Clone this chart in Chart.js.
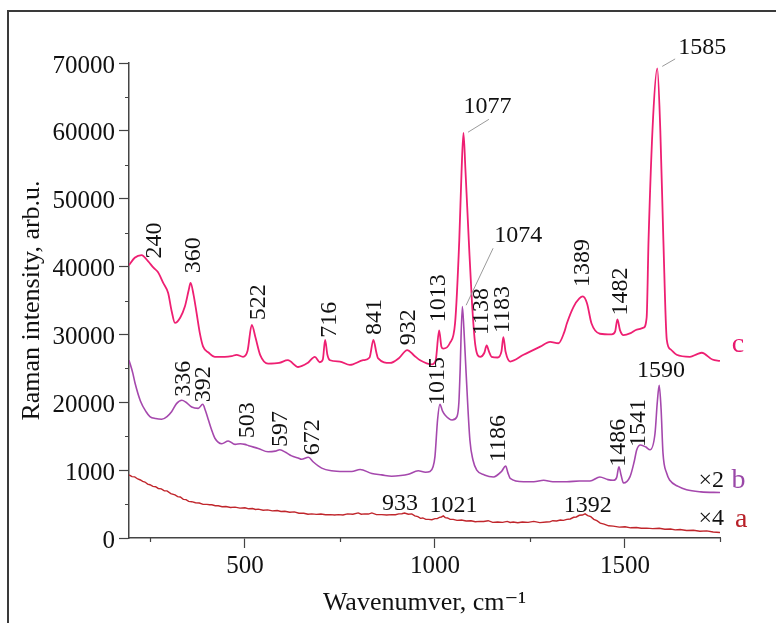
<!DOCTYPE html>
<html>
<head>
<meta charset="utf-8">
<title>Raman spectra</title>
<script src="https://cdn.jsdelivr.net/npm/chart.js@4.4.1/dist/chart.umd.min.js"></script>
<style>
  html, body { margin: 0; padding: 0; background: #fff; }
  canvas { display: block; }
</style>
</head>
<body>
<canvas id="ramanChart" width="776" height="623"></canvas>
<script>
// Spectrum c (pink)
const cWave = [195, 210, 228, 245, 260, 271, 285, 298, 307, 316, 330, 342, 352, 357, 365, 373, 382, 390, 405, 421,
  447, 465, 478, 495, 507, 518, 528, 540, 561, 590, 613, 640, 665, 684, 697, 705, 711, 717, 724, 750,
  776, 811, 828, 838, 846, 850, 882, 905, 927, 945, 961, 992, 1002, 1011, 1017, 1022, 1039, 1053, 1064, 1070,
  1075, 1080, 1089, 1097, 1106, 1119, 1130, 1136, 1142, 1149, 1165, 1175, 1180, 1186, 1198, 1233, 1277, 1303, 1325, 1340,
  1347, 1365, 1380, 1389, 1400, 1412, 1434, 1465, 1474, 1480, 1487, 1496, 1515, 1531, 1549, 1557, 1562, 1574, 1585, 1593,
  1601, 1610, 1620, 1636, 1671, 1690, 1702, 1730, 1750];
const cIntensity = [40200, 41300, 41700, 40800, 39800, 39200, 37600, 36100, 33500, 31700, 32500, 34100, 36500, 37600, 35800, 33100, 30000, 28200, 27300, 26700,
  26700, 26800, 27000, 26700, 27600, 31400, 29500, 27000, 25700, 25800, 26200, 25200, 25800, 26700, 25900, 26300, 29200, 27000, 26200, 26000,
  25500, 26200, 26600, 29200, 27300, 26500, 25800, 26500, 27700, 26900, 26200, 25600, 26200, 30600, 28200, 27900, 28700, 31700, 43900, 54000,
  59700, 54500, 43900, 35100, 28500, 26700, 27300, 28400, 27500, 26700, 26600, 27500, 29600, 27400, 26000, 27000, 28200, 28900, 28700, 30300,
  31600, 34100, 35300, 35600, 34600, 31600, 30100, 30000, 30400, 32200, 30600, 29900, 30200, 30700, 31000, 32500, 43900, 62000, 69200, 60000,
  43900, 29200, 27800, 27000, 26700, 27100, 27300, 26300, 26100];

// Spectrum b (purple, x2)
const bWave = [195, 205, 211, 225, 240, 250, 265, 281, 295, 307, 320, 334, 345, 360, 377, 389, 396, 404, 412, 421,
  439, 456, 474, 488, 500, 510, 535, 561, 580, 592, 608, 623, 640, 649, 667, 680, 702, 728, 760, 781,
  803, 834, 860, 886, 910, 930, 956, 975, 987, 995, 1000, 1007, 1013, 1020, 1027, 1045, 1058, 1063, 1066, 1072,
  1076, 1082, 1092, 1100, 1110, 1130, 1154, 1175, 1186, 1192, 1198, 1233, 1260, 1286, 1310, 1347, 1380, 1408, 1434, 1455,
  1469, 1478, 1484, 1490, 1496, 1513, 1524, 1531, 1541, 1555, 1566, 1579, 1585, 1590, 1595, 1600, 1610, 1618, 1640, 1662,
  1700, 1750];
const bIntensity = [26200, 24300, 22800, 20200, 18600, 17900, 17600, 17500, 17900, 18600, 19800, 20300, 20000, 19300, 19100, 19700, 18800, 17400, 16000, 14700,
  13900, 14300, 13800, 13900, 13800, 13600, 13200, 12700, 12800, 13000, 12600, 12100, 11800, 11600, 11900, 11200, 10300, 9900, 9800, 9800,
  10100, 9500, 9300, 9100, 9200, 9400, 9900, 9700, 9800, 10500, 12000, 17500, 19700, 18700, 18100, 17400, 17900, 20000, 24300, 34100,
  31000, 24300, 14400, 11500, 10000, 9300, 9000, 9800, 10600, 9600, 8800, 8300, 8300, 8500, 8300, 8300, 8400, 8400, 9000, 8600,
  8500, 8900, 10500, 9200, 8100, 9000, 11200, 13000, 13700, 13400, 13000, 15400, 20000, 22500, 19000, 12500, 9500, 8500, 7600, 7100,
  6800, 6700];

// Spectrum a (red, x4) - noisy trace
const aWave = [195, 203, 210, 218, 225, 231, 237, 244, 250, 258,
  265, 272, 280, 288, 295, 305, 316, 323, 330, 338,
  345, 352, 360, 370, 380, 390, 400, 407, 413, 422,
  430, 440, 450, 462, 474, 487, 500, 510, 520, 528,
  535, 548, 560, 572, 585, 595, 605, 618, 630, 642,
  655, 666, 676, 688, 700, 712, 725, 736, 746, 758,
  770, 784, 798, 806, 815, 825, 834, 846, 860, 873,
  886, 896, 905, 913, 920, 930, 939, 947, 955, 962,
  968, 976, 983, 992, 1000, 1006, 1012, 1017, 1022, 1027,
  1033, 1040, 1048, 1058, 1070, 1082, 1095, 1106, 1118, 1128,
  1140, 1152, 1165, 1178, 1190, 1198, 1206, 1218, 1230, 1245,
  1260, 1276, 1293, 1302, 1310, 1320, 1330, 1338, 1347, 1356,
  1365, 1372, 1380, 1388, 1395, 1402, 1410, 1418, 1426, 1435,
  1445, 1457, 1469, 1485, 1500, 1515, 1530, 1543, 1557, 1573,
  1590, 1605, 1620, 1632, 1645, 1662, 1680, 1697, 1715, 1732,
  1750];
const aIntensity = [9300, 9050, 9000, 8700, 8550, 8350, 8250, 7950, 7850, 7600,
  7550, 7300, 7250, 6950, 6950, 6550, 6350, 6100, 6050, 5700,
  5650, 5400, 5350, 5200, 5150, 4950, 4950, 4900, 4900, 4750,
  4750, 4600, 4650, 4500, 4550, 4400, 4450, 4300, 4350, 4200,
  4250, 4100, 4150, 4000, 4050, 3900, 3950, 3800, 3850, 3650,
  3650, 3500, 3550, 3480, 3530, 3420, 3450, 3380, 3450, 3400,
  3550, 3500, 3700, 3500, 3550, 3530, 3700, 3450, 3450, 3400,
  3450, 3430, 3550, 3580, 3680, 3500, 3550, 3250, 3150, 2900,
  2950, 2750, 2750, 2700, 2850, 2850, 3050, 3100, 3250, 3000,
  2950, 2750, 2750, 2600, 2650, 2500, 2550, 2400, 2450, 2430,
  2550, 2300, 2350, 2300, 2450, 2280, 2350, 2250, 2350, 2300,
  2450, 2270, 2350, 2370, 2550, 2500, 2650, 2600, 2750, 2800,
  3050, 3100, 3350, 3380, 3550, 3300, 3150, 2750, 2550, 2200,
  2050, 1800, 1750, 1600, 1650, 1500, 1550, 1430, 1450, 1380,
  1440, 1300, 1330, 1200, 1250, 1100, 1150, 1000, 1050, 880,
  820];

// Axis tick labels (the 10000 tick is printed as "1000" in the original figure)
const xTickValues = [250, 500, 750, 1000, 1250, 1500, 1750];
const xTickLabels = { 500: '500', 1000: '1000', 1500: '1500' };
const yTickValues = [0, 5000, 10000, 15000, 20000, 25000, 30000, 35000, 40000, 45000, 50000, 55000, 60000, 65000, 70000];
const yTickLabels = { 0: '0', 10000: '1000', 20000: '20000', 30000: '30000', 40000: '40000', 50000: '50000', 60000: '60000', 70000: '70000' };

// Peak labels
const rotatedLabels = [
  { text: '240', x: 263, y: 41200 }, { text: '360', x: 365, y: 39000 }, { text: '522', x: 535, y: 32100 },
  { text: '716', x: 724, y: 29500 }, { text: '841', x: 842, y: 29900 }, { text: '932', x: 930, y: 28400 },
  { text: '1013', x: 1009, y: 31800 }, { text: '1138', x: 1124, y: 29900 }, { text: '1183', x: 1179, y: 30200 },
  { text: '1389', x: 1390, y: 37000 }, { text: '1482', x: 1490, y: 32800 },
  { text: '336', x: 340, y: 20800 }, { text: '392', x: 392, y: 20000 }, { text: '503', x: 507, y: 14700 },
  { text: '597', x: 595, y: 13400 }, { text: '672', x: 679, y: 12200 }, { text: '1015', x: 1007, y: 19600 },
  { text: '1186', x: 1169, y: 11200 }, { text: '1486', x: 1484, y: 10500 }, { text: '1541', x: 1537, y: 13400 }
];
const flatLabels = [
  { text: '1077', x: 1138, y: 62600 }, { text: '1585', x: 1703, y: 71400 }, { text: '1074', x: 1219, y: 43600 },
  { text: '1590', x: 1595, y: 23700 }, { text: '933', x: 908, y: 4100 }, { text: '1021', x: 1049, y: 3800 },
  { text: '1392', x: 1402, y: 3800 }, { text: '×2', x: 1727, y: 7500 }, { text: '×4', x: 1727, y: 1900 }
];
const curveNames = [
  { text: 'c', x: 1797, y: 27400, color: '#e8186e' },
  { text: 'b', x: 1799, y: 7400, color: '#9a48a8' },
  { text: 'a', x: 1806, y: 1600, color: '#b82028' }
];
const leaderLines = [
  { x1: 1087, y1: 59800, x2: 1142, y2: 61700 },
  { x1: 1598, y1: 69500, x2: 1632, y2: 70600 },
  { x1: 1082, y1: 34300, x2: 1153, y2: 42700 }
];

const serif = '"Liberation Serif", "DejaVu Serif", serif';

function toPoints(xs, ys) {
    return xs.map((x, i) => ({ x: x, y: ys[i] }));
}

// Frame, minor ticks and the peak annotations
const decorations = {
    id: 'decorations',
    beforeDraw(chart) {
        const ctx = chart.ctx;
        ctx.save();
        ctx.strokeStyle = '#3a3a3a';
        ctx.lineWidth = 2;
        ctx.beginPath();
        ctx.moveTo(8, 623);
        ctx.lineTo(8, 11);
        ctx.lineTo(776, 11);
        ctx.stroke();
        ctx.restore();
    },
    afterDraw(chart) {
        const ctx = chart.ctx;
        const xs = chart.scales.x;
        const ys = chart.scales.y;
        const area = chart.chartArea;
        ctx.save();

        // minor ticks
        ctx.strokeStyle = '#444';
        ctx.lineWidth = 1.2;
        ctx.beginPath();
        xTickValues.forEach(v => {
            if (xTickLabels[v]) return;
            const px = Math.round(xs.getPixelForValue(v)) + 0.5;
            ctx.moveTo(px, area.bottom);
            ctx.lineTo(px, area.bottom + 4);
        });
        yTickValues.forEach(v => {
            if (yTickLabels[v]) return;
            const py = Math.round(ys.getPixelForValue(v)) + 0.5;
            ctx.moveTo(area.left, py);
            ctx.lineTo(area.left - 4, py);
        });
        ctx.stroke();

        // leader lines
        ctx.strokeStyle = '#9a9a9a';
        ctx.lineWidth = 1;
        leaderLines.forEach(l => {
            ctx.beginPath();
            ctx.moveTo(xs.getPixelForValue(l.x1), ys.getPixelForValue(l.y1));
            ctx.lineTo(xs.getPixelForValue(l.x2), ys.getPixelForValue(l.y2));
            ctx.stroke();
        });

        ctx.fillStyle = '#111';
        ctx.font = '24px ' + serif;

        // vertical labels, read bottom to top
        ctx.textAlign = 'left';
        ctx.textBaseline = 'middle';
        rotatedLabels.forEach(l => {
            ctx.save();
            ctx.translate(xs.getPixelForValue(l.x), ys.getPixelForValue(l.y));
            ctx.rotate(-Math.PI / 2);
            ctx.fillText(l.text, 0, 0);
            ctx.restore();
        });

        // horizontal labels
        ctx.textAlign = 'center';
        ctx.textBaseline = 'alphabetic';
        flatLabels.forEach(l => {
            ctx.fillText(l.text, xs.getPixelForValue(l.x), ys.getPixelForValue(l.y));
        });

        ctx.font = '28px ' + serif;
        curveNames.forEach(l => {
            ctx.fillStyle = l.color;
            ctx.fillText(l.text, xs.getPixelForValue(l.x), ys.getPixelForValue(l.y));
        });

        ctx.restore();
    }
};

const ctx = document.getElementById('ramanChart').getContext('2d');

new Chart(ctx, {
    type: 'line',
    data: {
        datasets: [
            {
                label: 'a',
                data: toPoints(aWave, aIntensity),
                borderColor: '#c0262c',
                borderWidth: 1.4,
                cubicInterpolationMode: 'default',
                tension: 0
            },
            {
                label: 'b',
                data: toPoints(bWave, bIntensity),
                borderColor: '#a548ad',
                borderWidth: 1.6
            },
            {
                label: 'c',
                data: toPoints(cWave, cIntensity),
                borderColor: '#ee1f72',
                borderWidth: 1.8
            }
        ]
    },
    options: {
        responsive: false,
        animation: false,
        elements: {
            point: { radius: 0 },
            line: { cubicInterpolationMode: 'monotone', fill: false }
        },
        layout: {
            padding: { left: 0, top: 63, right: 56, bottom: 0 }
        },
        plugins: {
            legend: { display: false },
            tooltip: { enabled: false }
        },
        scales: {
            x: {
                type: 'linear',
                min: 195,
                max: 1750,
                afterBuildTicks: scale => {
                    scale.ticks = xTickValues.map(v => ({ value: v }));
                },
                afterFit: scale => { scale.height = 85; },
                border: { display: true, color: '#444', width: 1.5 },
                grid: {
                    drawOnChartArea: false,
                    drawTicks: true,
                    tickLength: 10,
                    tickWidth: 1.2,
                    tickColor: c => (c.tick && xTickLabels[c.tick.value]) ? '#444' : 'rgba(0,0,0,0)'
                },
                ticks: {
                    autoSkip: false,
                    maxRotation: 0,
                    padding: 3,
                    color: '#111',
                    font: { family: serif, size: 25 },
                    callback: v => xTickLabels[v] || ''
                },
                title: {
                    display: true,
                    text: 'Wavenumver, cm⁻¹',
                    color: '#111',
                    font: { family: serif, size: 26 },
                    padding: { top: 0, bottom: 4 }
                }
            },
            y: {
                type: 'linear',
                min: 0,
                max: 70000,
                afterBuildTicks: scale => {
                    scale.ticks = yTickValues.map(v => ({ value: v }));
                },
                afterFit: scale => { scale.width = 129; },
                border: { display: true, color: '#444', width: 1.5 },
                grid: {
                    drawOnChartArea: false,
                    drawTicks: true,
                    tickLength: 10,
                    tickWidth: 1.2,
                    tickColor: c => (c.tick && yTickLabels[c.tick.value]) ? '#444' : 'rgba(0,0,0,0)'
                },
                ticks: {
                    autoSkip: false,
                    padding: 4,
                    labelOffset: 3,
                    color: '#111',
                    font: { family: serif, size: 25 },
                    callback: v => yTickLabels[v] || ''
                },
                title: {
                    display: true,
                    text: 'Raman intensity, arb.u.',
                    color: '#111',
                    font: { family: serif, size: 26 },
                    padding: { top: 17, bottom: 0 }
                }
            }
        }
    },
    plugins: [decorations]
});
</script>
</body>
</html>
